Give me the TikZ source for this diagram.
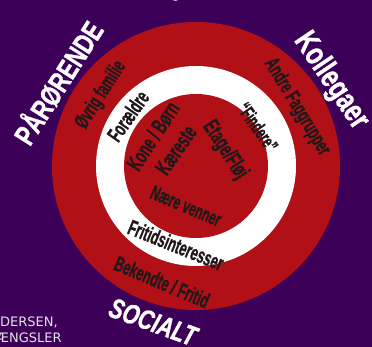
\documentclass[tikz,border=0pt]{standalone}
\usepackage{fontspec}
\usepackage{graphicx}
\newfontfamily\heavyfont{Liberation Sans}[BoldFeatures={FakeBold=1.2}, BoldItalicFeatures={FakeBold=1.2}]
\newfontfamily\plainfont{DejaVu Sans}
\definecolor{bgpurple}{RGB}{60,0,88}
\definecolor{ringred}{RGB}{177,16,22}
\definecolor{inkdark}{RGB}{34,24,26}
\definecolor{captiongrey}{RGB}{228,228,228}
\newcommand{\narrow}[1]{\scalebox{0.75}[1]{#1}}
\newcommand{\slim}[1]{\scalebox{0.66}[1.1]{#1}}

\begin{document}
\begin{tikzpicture}[
            x=1pt, y=1pt,
            lbl/.style={font=\heavyfont\bfseries\fontsize{#1}{#1}\selectfont, text=inkdark, inner sep=0pt},
            title/.style={font=\heavyfont\bfseries\fontsize{#1}{#1}\selectfont, text=white, inner sep=0pt},
            caption/.style={font=\plainfont\fontsize{13}{13}\selectfont, text=captiongrey, inner sep=0pt, anchor=base west}
        ]
            \clip (0,0) rectangle (372,347);
            \fill[bgpurple] (0,0) rectangle (372,347);

            % Rings
            \coordinate (mid) at (196,181);
            \fill[ringred] (mid) circle[radius=144pt];
            \fill[white] (mid) circle[radius=100pt];
            \fill[ringred] (mid) circle[radius=72pt];

            % Outer titles
            \node[title=29, rotate=57.5] (paarorende) at (57,265) {\narrow{PÅRØRENDE}};
            \node[title=32, rotate=-56] (kollegaer) at (331,266) {\narrow{Kollegaer}};
            \node[title=28, rotate=-20] (socialt) at (153,25) {\narrow{\itshape SOCIALT}};

            % Outer ring
            \node[lbl=19, rotate=57.5] (familie) at (101,252) {\slim{Øvrig familie}};
            \node[lbl=19, rotate=-59] (faggrupper) at (297,240) {\slim{Andre Faggrupper}};
            \node[lbl=19.5, rotate=-23] (bekendte) at (162,65) {\slim{Bekendte / Fritid}};

            % White ring
            \node[lbl=19.5, rotate=55] (foraeldre) at (128,231) {\slim{Forældre}};
            \node[lbl=18, rotate=-55] (findere) at (258,220) {\slim{“Findere”}};
            \node[lbl=19.5, rotate=-22] (fritid) at (176,102) {\slim{Fritidsinteresser}};

            % Inner circle
            \node[lbl=20.5, rotate=57] (koneborn) at (153,211) {\slim{Kone / Børn}};
            \node[lbl=20.5, rotate=55] (kaereste) at (176,197) {\slim{Kæreste}};
            \node[lbl=20.5, rotate=-57] (etage) at (225,197) {\slim{Etage/Fløj}};
            \node[lbl=18.5, rotate=-23] (venner) at (186,141) {\slim{Nære venner}};

            % Cut-off captions
            \node[caption, text=white, anchor=base] (topcut) at (176,348) {g};
            \node[caption] (capone) at (0,20) {DERSEN,};
            \node[caption] (captwo) at (-3.7,4) {ÆNGSLER};
        \end{tikzpicture}
\end{document}
